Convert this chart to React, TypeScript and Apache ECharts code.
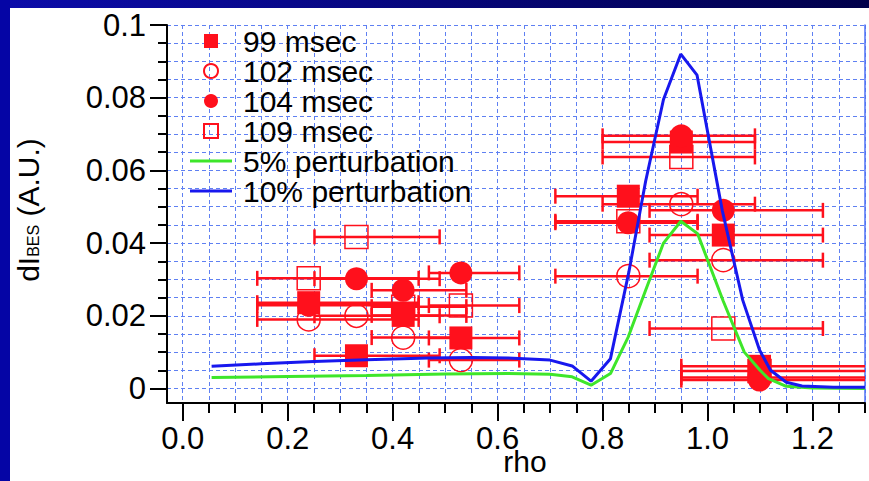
import React, { useEffect, useRef } from 'react';
import * as echarts from 'echarts';

// ---- data ----
const rhoChannels = [0.240, 0.331, 0.420, 0.530, 0.849, 0.950, 1.030, 1.099];
const rhoLow = [0.142, 0.251, 0.360, 0.469, 0.710, 0.800, 0.8895, 0.950];
const rhoHigh = [0.4495, 0.4895, 0.5404, 0.6413, 0.981, 1.0903, 1.2198, 1.400];

const dI99 = [0.0236, 0.0090, 0.0201, 0.0139, 0.0529, 0.0678, 0.0422, 0.0061];
const dI102 = [0.0190, 0.0200, 0.0140, 0.0078, 0.0309, 0.0507, 0.0353, 0.0030];
const dI104 = [0.0229, 0.0302, 0.0270, 0.0318, 0.0456, 0.0695, 0.0490, 0.0023];
const dI109 = [0.0303, 0.0417, 0.0225, 0.0228, 0.0460, 0.0637, 0.0165, 0.0048];

const rho5 = [0.055, 0.2, 0.35, 0.5, 0.62, 0.70, 0.742, 0.778, 0.815, 0.849, 0.882, 0.916, 0.949, 0.981, 1.03, 1.07, 1.1, 1.116, 1.15, 1.2, 1.3];
const pert5 = [0.0030, 0.0033, 0.0036, 0.0040, 0.0041, 0.0039, 0.0032, 0.0009, 0.0041, 0.0142, 0.0270, 0.0400, 0.0460, 0.0426, 0.0240, 0.0100, 0.0050, 0.0027, 0.0006, 0.0001, 0.0];

const rho10 = [0.055, 0.15, 0.25, 0.35, 0.469, 0.55, 0.62, 0.70, 0.742, 0.778, 0.815, 0.85, 0.882, 0.916, 0.949, 0.98, 1.028, 1.067, 1.099, 1.12, 1.15, 1.18, 1.24, 1.3];
const pert10 = [0.0061, 0.0068, 0.0074, 0.0079, 0.0084, 0.0085, 0.0084, 0.0078, 0.0062, 0.0020, 0.0082, 0.0320, 0.0570, 0.0795, 0.0920, 0.0862, 0.0490, 0.0243, 0.0106, 0.0050, 0.0017, 0.0007, 0.0003, 0.0003];

const xMajorTicks = [0, 0.2, 0.4, 0.6, 0.8, 1.0, 1.2];
const xTickLabels = ['0.0', '0.2', '0.4', '0.6', '0.8', '1.0', '1.2'];
const yMajorTicks = [0, 0.02, 0.04, 0.06, 0.08, 0.1];
const yTickLabels = ['0', '0.02', '0.04', '0.06', '0.08', '0.1'];
const xMinorTicks = Array.from({ length: 27 }, (_, i) => +(i * 0.05).toFixed(2));
const yMinorTicks = Array.from({ length: 21 }, (_, i) => +(i * 0.005).toFixed(3));

const seriesNames = ['99 msec', '102 msec', '104 msec', '109 msec', '5% perturbation', '10% perturbation'];

const RED = '#ff101c';
const GREEN = '#3ee62a';
const BLUE = '#1818ee';
const GRID = '#5f80f2';
const FONT = "'Liberation Sans', Arial, Helvetica, sans-serif";

function labelFor(ticks: number[], labels: string[], v: number) {
  const i = ticks.findIndex((t) => Math.abs(t - v) < 1e-9);
  return i >= 0 ? labels[i] : '';
}

function errorSeries(name: string, values: number[]) {
  return {
    type: 'custom',
    name,
    xAxisIndex: 0,
    yAxisIndex: 0,
    clip: true,
    silent: true,
    z: 2,
    encode: { x: 0, y: 1 },
    data: rhoChannels.map((r, i) => [r, values[i], rhoLow[i], rhoHigh[i]]),
    renderItem: (_params: any, api: any) => {
      const y = api.value(1);
      const p1 = api.coord([api.value(2), y]);
      const p2 = api.coord([api.value(3), y]);
      const h = 7.5;
      const style = { stroke: RED, lineWidth: 2.5, fill: null };
      return {
        type: 'group',
        children: [
          { type: 'line', shape: { x1: p1[0], y1: p1[1], x2: p2[0], y2: p2[1] }, style },
          { type: 'line', shape: { x1: p1[0], y1: p1[1] - h, x2: p1[0], y2: p1[1] + h }, style },
          { type: 'line', shape: { x1: p2[0], y1: p2[1] - h, x2: p2[0], y2: p2[1] + h }, style },
        ],
      };
    },
  };
}

function scatterSeries(name: string, values: number[], symbol: string, filled: boolean) {
  return {
    type: 'scatter',
    name,
    xAxisIndex: 0,
    yAxisIndex: 0,
    symbol,
    symbolSize: 23,
    z: 3,
    data: rhoChannels.map((r, i) => [r, values[i]]),
    itemStyle: filled
      ? { color: RED, opacity: 1 }
      : { color: 'transparent', borderColor: RED, borderWidth: 1.5, opacity: 1 },
  };
}

export default function App() {
  const ref = useRef<HTMLDivElement>(null);

  useEffect(() => {
    document.body.style.margin = '0';
    document.body.style.background = '#fff';
    if (!ref.current) return;
    const chart = echarts.init(ref.current, null, { renderer: 'svg' });
    const sq = 'path://M0 0H14V14H0Z';
    const bar = 'path://M0 0H42V3H0Z';
    chart.setOption({
      animation: false,
      grid: { left: 167, right: 4, top: 25, bottom: 78, containLabel: false, outerBoundsMode: 'none' },
      legend: {
        orient: 'vertical',
        left: 190,
        top: 26,
        padding: 0,
        itemWidth: 42,
        itemHeight: 14,
        itemGap: 0,
        selectedMode: false,
        textStyle: { fontSize: 30, lineHeight: 30, color: '#000', fontFamily: FONT, padding: [0, 0, 0, 6] },
        data: [
          { name: seriesNames[0], icon: sq },
          { name: seriesNames[1], icon: 'circle' },
          { name: seriesNames[2], icon: 'circle' },
          { name: seriesNames[3], icon: sq },
          { name: seriesNames[4], icon: bar, itemStyle: { borderWidth: 0 } },
          { name: seriesNames[5], icon: bar, itemStyle: { borderWidth: 0 } },
        ],
      },
      xAxis: [
        {
          type: 'value',
          min: -0.03,
          max: 1.3,
          position: 'bottom',
          axisLine: { show: true, onZero: false, lineStyle: { color: '#000', width: 2 } },
          axisTick: { show: true, customValues: xMinorTicks, length: 10, lineStyle: { color: '#000', width: 2 } },
          axisLabel: { show: false },
          splitLine: { show: true, lineStyle: { color: GRID, width: 1, type: [4, 3] } },
        },
        {
          type: 'value',
          min: -0.03,
          max: 1.3,
          position: 'bottom',
          axisLine: { show: false, onZero: false },
          axisTick: { show: true, customValues: xMajorTicks, length: 18, lineStyle: { color: '#000', width: 2 } },
          axisLabel: {
            show: true,
            customValues: xMajorTicks,
            margin: 25.5,
            fontSize: 31,
            lineHeight: 20,
            color: '#000',
            fontFamily: FONT,
            formatter: (v: number) => labelFor(xMajorTicks, xTickLabels, v),
          },
          splitLine: { show: false },
          name: 'rho',
          nameLocation: 'middle',
          nameGap: 48,
          nameMoveOverlap: false,
          nameTextStyle: { fontSize: 30, lineHeight: 20, color: '#000', fontFamily: FONT, padding: [0, 0, 0, 18] },
        },
      ],
      yAxis: [
        {
          type: 'value',
          min: -0.004,
          max: 0.1,
          position: 'left',
          axisLine: { show: true, onZero: false, lineStyle: { color: '#000', width: 2 } },
          axisTick: { show: true, customValues: yMinorTicks, length: 9, lineStyle: { color: '#000', width: 2 } },
          axisLabel: { show: false },
          splitLine: { show: true, lineStyle: { color: GRID, width: 1, type: [4, 3] } },
        },
        {
          type: 'value',
          min: -0.004,
          max: 0.1,
          position: 'left',
          axisLine: { show: false, onZero: false },
          axisTick: { show: true, customValues: yMajorTicks, length: 17, lineStyle: { color: '#000', width: 2 } },
          axisLabel: {
            show: true,
            customValues: yMajorTicks,
            margin: 21,
            fontSize: 31,
            color: '#000',
            fontFamily: FONT,
            formatter: (v: number) => labelFor(yMajorTicks, yTickLabels, v),
          },
          splitLine: { show: false },
          name: '{a|dI}{b|BES}{a| (A.U.)}',
          nameLocation: 'middle',
          nameGap: 124,
          nameTextStyle: {
            color: '#000',
            fontFamily: FONT,
            padding: [0, 0, 0, 8],
            rich: {
              a: { fontSize: 30, color: '#000', fontFamily: FONT, verticalAlign: 'bottom' },
              b: { fontSize: 16, color: '#000', fontFamily: FONT, verticalAlign: 'bottom', padding: [0, 0, 2, 0] },
            },
          },
        },
        {
          type: 'value',
          min: -0.004,
          max: 0.1,
          position: 'right',
          axisLine: { show: true, onZero: false, lineStyle: { color: '#4f72f5', width: 1.5 } },
          axisTick: { show: false },
          axisLabel: { show: false },
          splitLine: { show: false },
        },
      ],
      series: [
        errorSeries('err99', dI99),
        errorSeries('err102', dI102),
        errorSeries('err104', dI104),
        errorSeries('err109', dI109),
        scatterSeries(seriesNames[0], dI99, 'rect', true),
        scatterSeries(seriesNames[1], dI102, 'circle', false),
        scatterSeries(seriesNames[2], dI104, 'circle', true),
        scatterSeries(seriesNames[3], dI109, 'rect', false),
        {
          type: 'line',
          name: seriesNames[4],
          xAxisIndex: 0,
          yAxisIndex: 0,
          symbol: 'none',
          showSymbol: false,
          z: 4,
          data: rho5.map((r, i) => [r, pert5[i]]),
          lineStyle: { color: GREEN, width: 3 },
          itemStyle: { color: GREEN },
        },
        {
          type: 'line',
          name: seriesNames[5],
          xAxisIndex: 0,
          yAxisIndex: 0,
          symbol: 'none',
          showSymbol: false,
          z: 4,
          data: rho10.map((r, i) => [r, pert10[i]]),
          lineStyle: { color: BLUE, width: 3 },
          itemStyle: { color: BLUE },
        },
      ],
    });
    return () => chart.dispose();
  }, []);

  return (
    <div style={{ position: 'fixed', left: 0, top: 0, width: 869, height: 481, background: '#fff', overflow: 'hidden' }}>
      <div style={{ position: 'absolute', left: 0, top: 0, width: 869, height: 8, background: 'linear-gradient(to right, #0c0caa, #00004a)' }} />
      <div style={{ position: 'absolute', left: 0, top: 0, width: 10, height: 481, background: '#0505a5' }} />
      <div ref={ref} style={{ position: 'absolute', left: 0, top: 0, width: 869, height: 481 }} />
    </div>
  );
}
